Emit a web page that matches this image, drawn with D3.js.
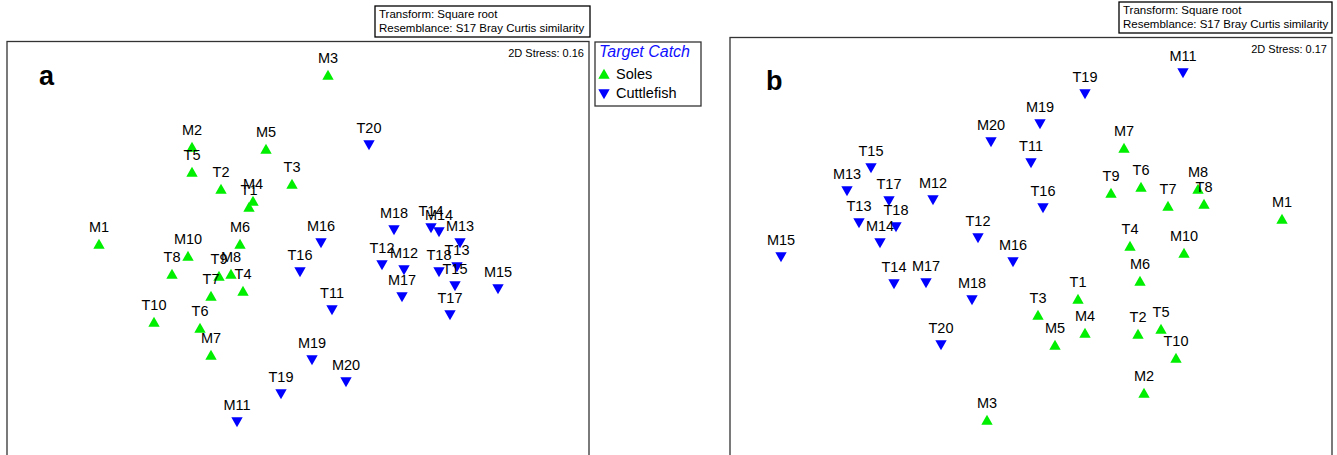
<!DOCTYPE html>
<html>
<head>
<meta charset="utf-8">
<script src="https://cdn.jsdelivr.net/npm/d3@7"></script>
<style>
  html, body { margin: 0; padding: 0; background: #fff; }
  svg { display: block; font-family: "Liberation Sans", Arial, sans-serif; }
</style>
</head>
<body>
<svg id="chart" width="1337" height="455"></svg>
<script>
// nMDS ordination of trawl samples (square-root transformed, Bray-Curtis similarity)
const solesLabels = ["M1","M2","M3","M4","M5","M6","M7","M8","M10",
                     "T1","T2","T3","T4","T5","T6","T7","T8","T9","T10"];
const cuttleLabels = ["M11","M12","M13","M14","M15","M16","M17","M18","M19","M20",
                      "T11","T12","T13","T14","T15","T16","T17","T18","T19","T20"];

// Panel a coordinates (MDS1, MDS2)
const solesA_x = [-2.01,-1.08,0.28,-0.47,-0.34,-0.60,-0.89,-0.69,-1.12,
                  -0.51,-0.79,-0.08,-0.57,-1.08,-1.00,-0.89,-1.28,-0.81,-1.46];
const solesA_y = [0.06,1.03,1.75,0.49,1.01,0.06,-1.05,-0.24,-0.06,
                  0.43,0.61,0.66,-0.41,0.78,-0.78,-0.46,-0.24,-0.26,-0.72];
const cuttleA_x = [-0.63,1.04,1.60,1.39,1.98,0.21,1.02,0.94,0.12,0.46,
                   0.32,0.82,1.57,1.31,1.55,0.00,1.50,1.39,-0.19,0.69];
const cuttleA_y = [-1.72,-0.20,0.07,0.18,-0.39,0.07,-0.47,0.20,-1.10,-1.32,
                   -0.60,-0.15,-0.17,0.22,-0.36,-0.22,-0.65,-0.22,-1.44,1.05];

// Panel b coordinates (MDS1, MDS2)
const solesB_x = [2.52,1.14,-0.43,0.55,0.25,1.10,0.94,1.68,1.54,
                  0.48,1.08,0.08,1.00,1.31,1.11,1.38,1.74,0.81,1.46];
const solesB_y = [0.31,-1.43,-1.70,-0.83,-0.95,-0.31,1.02,0.61,-0.03,
                  -0.49,-0.84,-0.65,0.04,-0.79,0.63,0.44,0.46,0.57,-1.08];
const cuttleB_x = [1.53,-0.97,-1.83,-1.50,-2.49,-0.17,-1.04,-0.58,0.10,-0.39,
                   0.01,-0.52,-1.71,-1.36,-1.59,0.13,-1.41,-1.34,0.55,-0.89];
const cuttleB_y = [1.77,0.50,0.59,0.07,-0.07,-0.12,-0.33,-0.50,1.26,1.08,
                   0.87,0.12,0.27,-0.34,0.82,0.42,0.49,0.23,1.56,-0.95];

const stressValues = ["0.16", "0.17"];
const panelLetters = ["a", "b"];
const infoLines = ["Transform: Square root", "Resemblance: S17 Bray Curtis similarity"];
const groupNames = ["Soles", "Cuttlefish"];
const legendTitle = "Target Catch";

const GREEN = "#00ee00";
const BLUE = "#0000ff";

const svg = d3.select("#chart");

const upTri = "M0,-5.2L5.7,4.8L-5.7,4.8Z";
const downTri = "M0,5.2L5.7,-4.8L-5.7,-4.8Z";

function zip(labels, xs, ys) {
  return labels.map((l, i) => ({ label: l, x: xs[i], y: ys[i] }));
}

function drawPanel(cfg) {
  const g = svg.append("g");
  const x = d3.scaleLinear().domain(cfg.xDomain).range([cfg.left, cfg.right]);
  const y = d3.scaleLinear().domain(cfg.yDomain).range([cfg.top, cfg.bottom]);

  // frame
  g.append("rect")
    .attr("x", cfg.left).attr("y", cfg.top)
    .attr("width", cfg.right - cfg.left).attr("height", 480 - cfg.top)
    .attr("fill", "none").attr("stroke", "#333").attr("stroke-width", 1.3);

  // info box
  const ib = cfg.info;
  g.append("rect")
    .attr("x", ib.x).attr("y", ib.y).attr("width", ib.w).attr("height", ib.h)
    .attr("fill", "#fff").attr("stroke", "#000").attr("stroke-width", 1.3);
  infoLines.forEach((t, i) => {
    g.append("text").attr("x", ib.x + 4).attr("y", ib.y + 11.5 + i * 14.3)
      .attr("font-size", 11.5).attr("fill", "#000").text(t);
  });

  // stress
  g.append("text").attr("x", cfg.right - 5).attr("y", cfg.top + 15.5)
    .attr("text-anchor", "end").attr("font-size", 11).attr("fill", "#000")
    .text("2D Stress: " + cfg.stress);

  // panel letter
  g.append("text").attr("x", cfg.letterX).attr("y", cfg.letterY)
    .attr("font-size", 27).attr("font-weight", "bold").attr("fill", "#000")
    .text(cfg.letter);

  const soles = zip(solesLabels, cfg.sx, cfg.sy);
  const cuttle = zip(cuttleLabels, cfg.cx, cfg.cy);

  g.selectAll("path.sole").data(soles).enter().append("path")
    .attr("class", "sole").attr("d", upTri).attr("fill", GREEN)
    .attr("transform", d => `translate(${x(d.x)},${y(d.y)})`);
  g.selectAll("path.cuttle").data(cuttle).enter().append("path")
    .attr("class", "cuttle").attr("d", downTri).attr("fill", BLUE)
    .attr("transform", d => `translate(${x(d.x)},${y(d.y)})`);

  g.selectAll("text.lab").data(soles.concat(cuttle)).enter().append("text")
    .attr("class", "lab")
    .attr("x", d => x(d.x)).attr("y", d => y(d.y) - 12.5)
    .attr("text-anchor", "middle").attr("font-size", 14.5).attr("fill", "#000")
    .text(d => d.label);
}

drawPanel({
  left: 7, right: 589, top: 41.5, bottom: 455,
  xDomain: [-2.93, 2.89], yDomain: [2.085, -2.05],
  info: { x: 375, y: 6, w: 215, h: 31 },
  stress: stressValues[0], letter: panelLetters[0], letterX: 39, letterY: 85,
  sx: solesA_x, sy: solesA_y, cx: cuttleA_x, cy: cuttleA_y
});

drawPanel({
  left: 730, right: 1332, top: 37.5, bottom: 455,
  xDomain: [-3.0, 3.02], yDomain: [2.125, -2.05],
  info: { x: 1119, y: 2, w: 213, h: 31 },
  stress: stressValues[1], letter: panelLetters[1], letterX: 766, letterY: 90,
  sx: solesB_x, sy: solesB_y, cx: cuttleB_x, cy: cuttleB_y
});

// legend beside panel a
const lg = svg.append("g");
lg.append("rect").attr("x", 595).attr("y", 42).attr("width", 106).attr("height", 64)
  .attr("fill", "#fff").attr("stroke", "#333").attr("stroke-width", 1.3);
lg.append("text").attr("x", 599).attr("y", 57).attr("font-size", 16)
  .attr("font-style", "italic").attr("fill", "#1010ff").text(legendTitle);
lg.append("path").attr("d", upTri).attr("fill", GREEN).attr("transform", "translate(604,74)");
lg.append("path").attr("d", downTri).attr("fill", BLUE).attr("transform", "translate(604,94)");
lg.append("text").attr("x", 616).attr("y", 79).attr("font-size", 14.5).attr("fill", "#000").text(groupNames[0]);
lg.append("text").attr("x", 616).attr("y", 98).attr("font-size", 14.5).attr("fill", "#000").text(groupNames[1]);
</script>
</body>
</html>
